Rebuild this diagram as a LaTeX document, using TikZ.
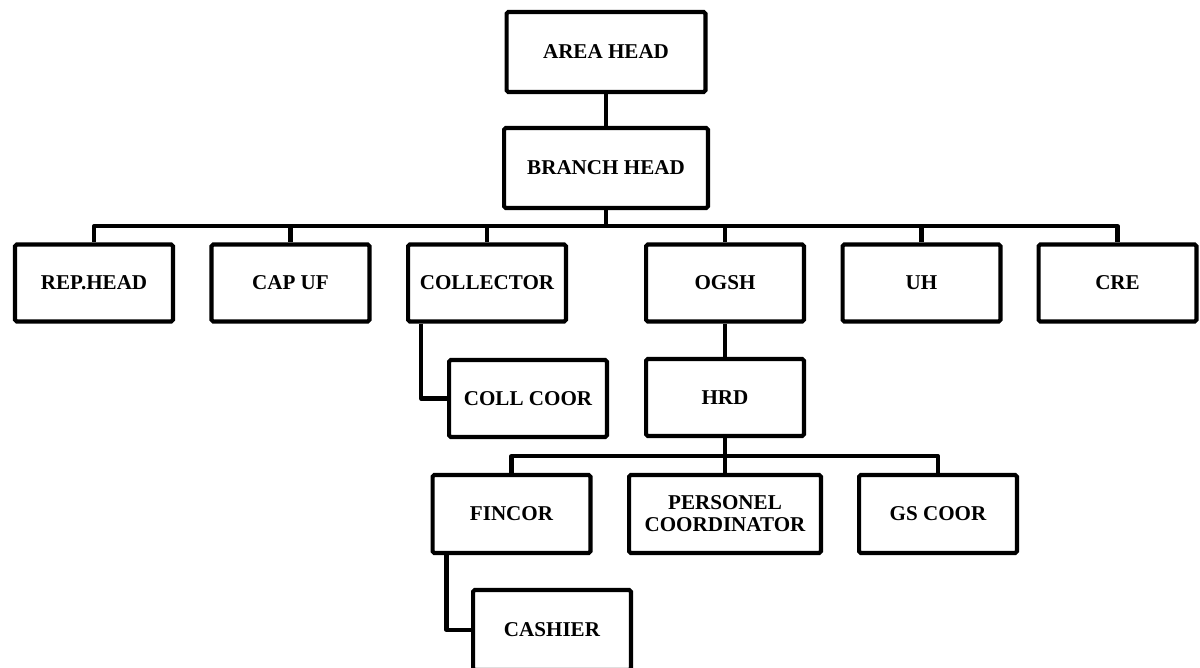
\documentclass[tikz,border=0pt]{standalone}
\usepackage{fontspec}
\setmainfont{Liberation Serif}
\usepackage{tikz}
\usetikzlibrary{positioning}

\tikzset{
    unit/.style={draw, line width=2.3pt, rounded corners=1pt, align=center,
        inner sep=0pt, minimum width=3.16cm, minimum height=1.54cm,
        font=\bfseries\fontsize{12}{12.5}\selectfont},
    link/.style={line width=2.3pt, line join=round}
}

\begin{document}
\begin{tikzpicture}[x=0.02cm, y=-0.02cm]
    \useasboundingbox (0,0) rectangle (1200,668);

    % Heads
    \node[unit, minimum width=3.98cm, minimum height=1.6cm] (ah) at (606,52) {AREA HEAD};
    \node[unit, minimum width=4.08cm, minimum height=1.6cm] (bh) at (606,168) {BRANCH HEAD};

    % First level
    \node[unit] (rep) at (94,283) {REP.HEAD};
    \node[unit] (cap) at (290.5,283) {CAP UF};
    \node[unit] (col) at (487,283) {COLLECTOR};
    \node[unit] (ogsh) at (725,283) {OGSH};
    \node[unit] (uh) at (921.5,283) {UH};
    \node[unit] (cre) at (1117.5,283) {CRE};

    % Second level
    \node[unit] (cc) at (528,398.5) {COLL COOR};
    \node[unit] (hrd) at (725,397.5) {HRD};

    % Under HRD
    \node[unit, minimum height=1.56cm] (fin) at (511.5,514) {FINCOR};
    \node[unit, minimum width=3.84cm, minimum height=1.56cm] (pers) at (725,514) {PERSONEL\\COORDINATOR};
    \node[unit, minimum height=1.56cm] (gs) at (938,514) {GS COOR};
    \node[unit, minimum height=1.6cm] (cash) at (552,630) {CASHIER};

    % Connectors
    \coordinate (bus1) at (606,226);
    \coordinate (bus2) at (725,456);
    \draw[link] (ah) -- (bh);
    \foreach \n in {rep, cap, col, ogsh, uh, cre} {
        \draw[link] (bh.south) -- (bh.south |- bus1) -| (\n.north);
    }
    \draw[link] ([xshift=0.3cm]col.south west) |- (cc.west);
    \draw[link] (ogsh) -- (hrd);
    \foreach \n in {fin, pers, gs} {
        \draw[link] (hrd.south) -- (hrd.south |- bus2) -| (\n.north);
    }
    \draw[link] ([xshift=0.32cm]fin.south west) |- (cash.west);
\end{tikzpicture}
\end{document}
